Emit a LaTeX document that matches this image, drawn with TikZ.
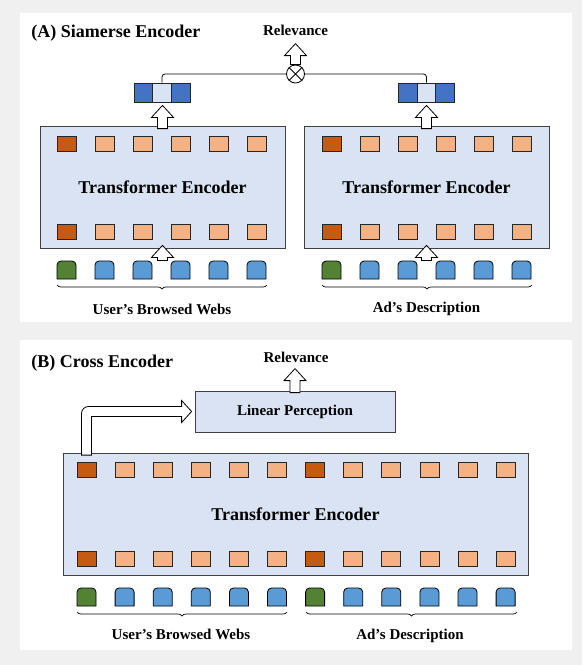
\documentclass[tikz,border=0pt]{standalone}
\usepackage{fontspec}
\setmainfont{Liberation Serif}
\usetikzlibrary{calc,decorations.pathreplacing}

\definecolor{bggray}{HTML}{F0F0F0}
\definecolor{encfill}{HTML}{DAE3F3}
\definecolor{tokdark}{HTML}{C55A11}
\definecolor{toklight}{HTML}{F4B183}
\definecolor{inpgreen}{HTML}{548235}
\definecolor{inpblue}{HTML}{5B9BD5}
\definecolor{vecdark}{HTML}{4472C4}

\tikzset{
  paneltitle/.style={font=\bfseries\fontsize{18}{20}\selectfont, anchor=west, inner sep=0pt},
  encoder/.style={draw=black!75, fill=encfill, font=\bfseries\fontsize{18}{20}\selectfont},
  outtok/.style={draw=black!85, fill=toklight, minimum width=19pt, minimum height=15pt, inner sep=0pt},
  clstok/.style={outtok, fill=tokdark},
  veccell/.style={draw=black!85, fill=vecdark, minimum width=18.7pt, minimum height=19pt, inner sep=0pt},
  caption/.style={font=\bfseries\fontsize{15}{17}\selectfont, inner sep=0pt},
  underbrace/.style={decorate, decoration={brace, mirror, amplitude=4pt}, line width=0.7pt},
}

% input token, rounded at the top only
\newcommand{\inputtok}[3]{%
  \draw[fill=#3] (#1-9.5,#2+9) [rounded corners=4pt] -- (#1-9.5,#2-9) -- (#1+9.5,#2-9) [sharp corners] -- (#1+9.5,#2+9) -- cycle;}

% hollow block arrow going up from coordinate #1 to the tip coordinate #2
\newcommand{\blockup}[2]{%
  \draw[fill=white] ($(#1)+(-5,0)$) -- ($(#1|-#2)+(-5,12)$) -- ($(#1|-#2)+(-11,12)$) -- (#1|-#2)
    -- ($(#1|-#2)+(11,12)$) -- ($(#1|-#2)+(5,12)$) -- ($(#1)+(5,0)$) -- cycle;}

\begin{document}
\begin{tikzpicture}[x=1pt, y=-1pt, line width=0.8pt]
% background and the two panels
\fill[bggray] (0,0) rectangle (582,665);
\fill[white] (20,13) rectangle (572,322);
\fill[white] (20,340) rectangle (572,650);

% (A) Siamerse Encoder
\node[paneltitle] (titleA) at (31,33) {(A) Siamerse Encoder};
\node[encoder, minimum width=245pt, minimum height=122pt] (encA1) at (162.5,187) {Transformer Encoder};
\node[encoder, minimum width=245pt, minimum height=122pt] (encA2) at (426.5,187) {Transformer Encoder};

\foreach \s in {0,265} {
  \node[clstok] (topA\s-1) at (66.5+\s,143.5) {};
  \node[clstok] (botA\s-1) at (66.5+\s,231.5) {};
  \foreach \x [count=\i from 2] in {104.5,142.5,180.5,218.5,256.5} {
    \node[outtok] (topA\s-\i) at (\x+\s,143.5) {};
    \node[outtok] (botA\s-\i) at (\x+\s,231.5) {};
  }
  \inputtok{66.5+\s}{270}{inpgreen}
  \foreach \x in {104.5,142.5,180.5,218.5,256.5} {
    \inputtok{\x+\s}{270}{inpblue}
  }
}
\draw[underbrace] (57,285) -- (267,285);
\draw[underbrace] (322,285) -- (532,285);
\node[caption] (webA) at (162,309) {User’s Browsed Webs};
\node[caption] (adA) at (426.5,309) {Ad’s Description};

% pooled vectors
\node[veccell] (vl1) at (143.4,92.5) {};
\node[veccell, fill=encfill] (vl2) at (162,92.5) {};
\node[veccell] (vl3) at (180.6,92.5) {};
\node[veccell] (vr1) at (407.9,92.5) {};
\node[veccell, fill=encfill] (vr2) at (426.5,92.5) {};
\node[veccell] (vr3) at (445.1,92.5) {};

\node[circle, draw, minimum size=18pt, inner sep=0pt] (mul) at (295.5,74) {};
\draw (mul.north west) -- (mul.south east);
\draw (mul.north east) -- (mul.south west);
\draw[rounded corners=3pt] (vl2.north) |- (mul.west);
\draw[rounded corners=3pt] (vr2.north) |- (mul.east);
\node[caption] (relA) at (295.5,30) {Relevance};

\coordinate (a1out) at ($(encA1.north)+(0,3)$);
\coordinate (a1tip) at ($(vl2.south)+(0,3)$);
\coordinate (a2out) at ($(encA2.north)+(0,3)$);
\coordinate (a2tip) at ($(vr2.south)+(0,3)$);
\coordinate (a1in) at ($(encA1.south)+(0,12)$);
\coordinate (a1intip) at ($(encA1.south)+(0,-3)$);
\coordinate (a2in) at ($(encA2.south)+(0,12)$);
\coordinate (a2intip) at ($(encA2.south)+(0,-3)$);
\coordinate (reltipA) at ($(mul.north)+(0,-21)$);
\blockup{a1out}{a1tip}
\blockup{a2out}{a2tip}
\blockup{a1in}{a1intip}
\blockup{a2in}{a2intip}
\blockup{mul.north}{reltipA}

% (B) Cross Encoder
\node[paneltitle] (titleB) at (31,363) {(B) Cross Encoder};
\node[encoder, minimum width=465pt, minimum height=122pt] (encB) at (295.5,514) {Transformer Encoder};
\node[encoder, font=\bfseries\fontsize{15}{17}\selectfont, minimum width=200pt, minimum height=41pt] (lin) at (295,411.5) {Linear Perception};
\node[caption] (relB) at (296,357) {Relevance};

\foreach \i in {0,...,11} {
  \ifnum\i=0 \def\st{clstok}\def\ic{inpgreen}\else\ifnum\i=6 \def\st{clstok}\def\ic{inpgreen}\else\def\st{outtok}\def\ic{inpblue}\fi\fi
  \node[\st] (topB\i) at (86.5+38.1*\i,470) {};
  \node[\st] (botB\i) at (86.5+38.1*\i,558.5) {};
  \inputtok{86.5+38.1*\i}{597}{\ic}
}
\draw[underbrace] (77,612) -- (287,612);
\draw[underbrace] (306,612) -- (517,612);
\node[caption] (webB) at (181,634) {User’s Browsed Webs};
\node[caption] (adB) at (410,636) {Ad’s Description};

\coordinate (linout) at ($(lin.north)+(0,2)$);
\coordinate (reltipB) at ($(lin.north)+(0,-22)$);
\blockup{linout}{reltipB}

% elbow arrow from the first token to the linear layer
\coordinate (ebase) at ($(topB0.north)+(0,-7)$);
\draw[fill=white] ($(ebase)+(-5,0)$) [rounded corners=7pt] -- ($(ebase|-lin.west)+(-5,-5)$) [sharp corners]
  -- ($(lin.west)+(-13,-5)$) -- ($(lin.west)+(-13,-11)$) -- ($(lin.west)+(-3,0)$)
  -- ($(lin.west)+(-13,11)$) -- ($(lin.west)+(-13,5)$) -- ($(ebase|-lin.west)+(5,5)$)
  -- ($(ebase)+(5,0)$) -- cycle;
\end{tikzpicture}
\end{document}
